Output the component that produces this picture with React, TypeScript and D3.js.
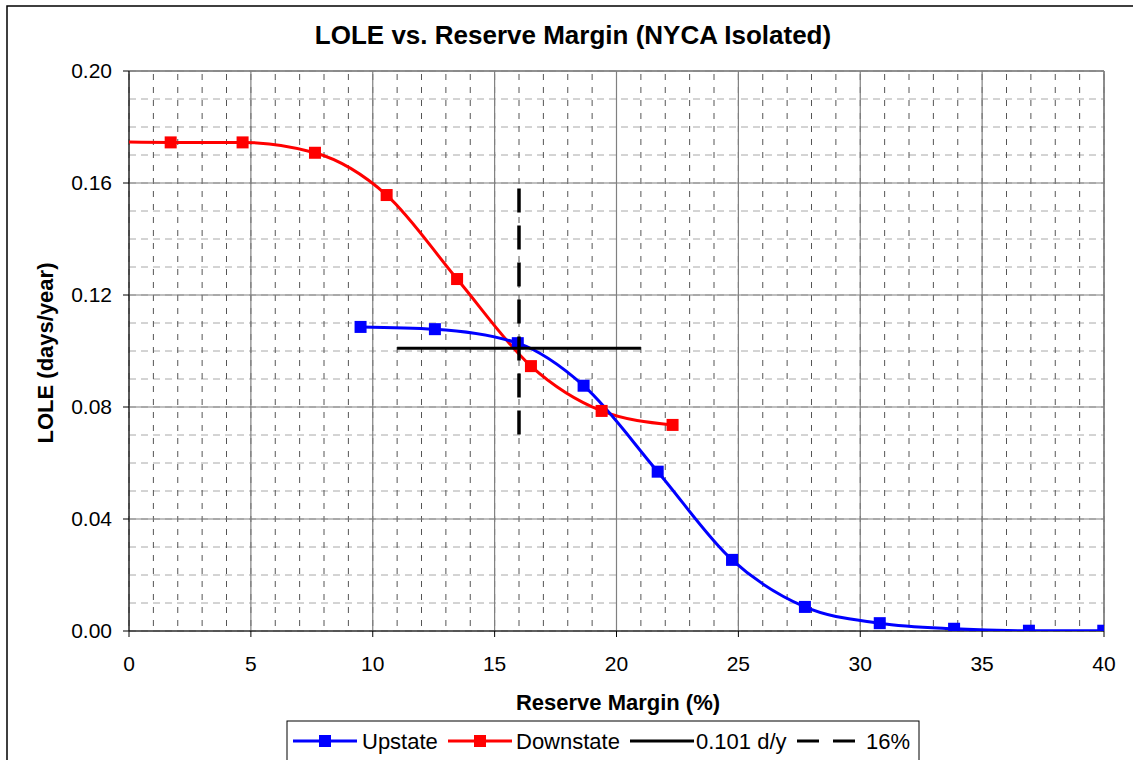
import React from "react";
import * as d3 from "d3";

const upstateX = [9.5, 12.55, 15.95, 18.65, 21.69, 24.74, 27.73, 30.8, 33.85, 36.92, 39.97];
const upstateY = [0.1086, 0.1078, 0.1028, 0.0876, 0.0569, 0.0254, 0.0086, 0.0028, 0.0008, 0.0001, 0.0001];
const downstateX = [-1.25, 1.71, 4.66, 7.63, 10.57, 13.46, 16.49, 19.39, 22.3];
const downstateY = [0.1748, 0.1745, 0.1745, 0.1708, 0.1557, 0.1257, 0.0946, 0.0786, 0.0736];
const thresholdX = [11, 21];
const thresholdY = [0.101, 0.101];
const marginX = [16, 16];
const marginY = [0.158, 0.069];
const xTicks = [0, 5, 10, 15, 20, 25, 30, 35, 40];
const yTicks = [0, 0.04, 0.08, 0.12, 0.16, 0.2];
const xMinor = d3.range(0, 41, 1);
const yMinor = d3.range(0, 0.2001, 0.01);
const legendLabels = ["Upstate", "Downstate", "0.101 d/y", "16%"];

const W = 1133;
const H = 760;
const FONT = "'Liberation Sans', Arial, sans-serif";

export default function App() {
  const x = d3.scaleLinear().domain([0, 40]).range([129, 1104]);
  const y = d3.scaleLinear().domain([0, 0.2]).range([631, 71]);
  const [x0, x1] = x.range();
  const [y0, y1] = y.range();

  const smooth = d3
    .line<[number, number]>()
    .x((d) => x(d[0]))
    .y((d) => y(d[1]))
    .curve(d3.curveMonotoneX);
  const straight = d3
    .line<[number, number]>()
    .x((d) => x(d[0]))
    .y((d) => y(d[1]));

  const up: [number, number][] = upstateX.map((v, i) => [v, upstateY[i]]);
  const down: [number, number][] = downstateX.map((v, i) => [v, downstateY[i]]);
  const thr: [number, number][] = thresholdX.map((v, i) => [v, thresholdY[i]]);
  const mar: [number, number][] = marginX.map((v, i) => [v, marginY[i]]);

  const ms = 12;
  const lms = 12;
  const legendItems = [
    { label: legendLabels[0], color: "#0000ff", marker: true, dash: "", lx: 293, tx: 362 },
    { label: legendLabels[1], color: "#ff0000", marker: true, dash: "", lx: 448, tx: 516 },
    { label: legendLabels[2], color: "#000000", marker: false, dash: "", lx: 630, tx: 696 },
    { label: legendLabels[3], color: "#000000", marker: false, dash: "22,14", lx: 797, tx: 866 },
  ];

  return (
    <svg
      width={W}
      height={H}
      style={{ position: "absolute", left: 0, top: 0, background: "#fff" }}
      fontFamily={FONT}
    >
      <defs>
        <clipPath id="plot">
          <rect x={x0} y={y1} width={x1 - x0} height={y0 - y1} />
        </clipPath>
      </defs>
      <rect x={0} y={0} width={W} height={H} fill="#fff" />
      <rect x={7} y={6} width={W + 20} height={H + 20} fill="none" stroke="#000" strokeWidth={1.5} />

      <text x={573} y={44} textAnchor="middle" fontSize={26} fontWeight="bold">
        LOLE vs. Reserve Margin (NYCA Isolated)
      </text>

      {/* minor grid */}
      {yMinor.map((v, i) => (
        <line key={"ym" + i} x1={x0} x2={x1} y1={y(v)} y2={y(v)} stroke="#a8a8a8" strokeWidth={1} strokeDasharray="7,5" />
      ))}
      {xMinor.map((v, i) => (
        <line key={"xm" + i} x1={x(v)} x2={x(v)} y1={y1} y2={y0} stroke="#555" strokeWidth={1} strokeDasharray="6,7" strokeDashoffset={-3} />
      ))}
      {/* major grid */}
      {yTicks.map((v, i) => (
        <line key={"yM" + i} x1={x0} x2={x1} y1={y(v)} y2={y(v)} stroke="#808080" strokeWidth={1.2} />
      ))}
      {xTicks.map((v, i) => (
        <line key={"xM" + i} x1={x(v)} x2={x(v)} y1={y1} y2={y0} stroke="#808080" strokeWidth={1.2} />
      ))}
      <line x1={x1} x2={x1} y1={y1} y2={y0} stroke="#808080" strokeWidth={1.5} />
      <line x1={x0} x2={x1} y1={y1} y2={y1} stroke="#808080" strokeWidth={1.5} />

      {/* axes */}
      <line x1={x0} x2={x0} y1={y1} y2={y0} stroke="#000" strokeWidth={1} />
      <line x1={x0} x2={x1} y1={y0} y2={y0} stroke="#000" strokeWidth={1} />
      {yTicks.map((v, i) => (
        <g key={"yt" + i}>
          <line x1={x0 - 6} x2={x0} y1={y(v)} y2={y(v)} stroke="#000" />
          <text x={x0 - 17} y={y(v)} dy="0.35em" textAnchor="end" fontSize={21}>
            {v.toFixed(2)}
          </text>
        </g>
      ))}
      {xTicks.map((v, i) => (
        <g key={"xt" + i}>
          <line x1={x(v)} x2={x(v)} y1={y0} y2={y0 + 6} stroke="#000" />
          <text x={x(v)} y={671} textAnchor="middle" fontSize={21}>
            {v}
          </text>
        </g>
      ))}
      <text x={618} y={710} textAnchor="middle" fontSize={22} fontWeight="bold">
        Reserve Margin (%)
      </text>
      <text
        transform={`translate(53,353) rotate(-90)`}
        textAnchor="middle"
        fontSize={22}
        fontWeight="bold"
      >
        LOLE (days/year)
      </text>

      {/* series */}
      <g clipPath="url(#plot)">
        <path d={smooth(down) || ""} fill="none" stroke="#ff0000" strokeWidth={3} />
        <path d={smooth(up) || ""} fill="none" stroke="#0000ff" strokeWidth={3} />
        {down.map((d, i) => (
          <rect key={"dm" + i} x={x(d[0]) - ms / 2} y={y(d[1]) - ms / 2} width={ms} height={ms} fill="#ff0000" />
        ))}
        {up.map((d, i) => (
          <rect key={"um" + i} x={x(d[0]) - ms / 2} y={y(d[1]) - ms / 2} width={ms} height={ms} fill="#0000ff" />
        ))}
        <path d={straight(thr) || ""} fill="none" stroke="#000" strokeWidth={3} />
        <path d={straight(mar) || ""} fill="none" stroke="#000" strokeWidth={3.5} strokeDasharray="24,13" />
      </g>

      {/* legend */}
      <rect x={287} y={721} width={632} height={60} fill="#fff" stroke="#000" strokeWidth={1} />
      {legendItems.map((it, i) => (
        <g key={"lg" + i}>
          <line x1={it.lx} x2={it.lx + 64} y1={741} y2={741} stroke={it.color} strokeWidth={3} strokeDasharray={it.dash || undefined} />
          {it.marker && <rect x={it.lx + 32 - lms / 2} y={741 - lms / 2} width={lms} height={lms} fill={it.color} />}
          <text x={it.tx} y={741} dy="0.35em" fontSize={22}>
            {it.label}
          </text>
        </g>
      ))}
    </svg>
  );
}
